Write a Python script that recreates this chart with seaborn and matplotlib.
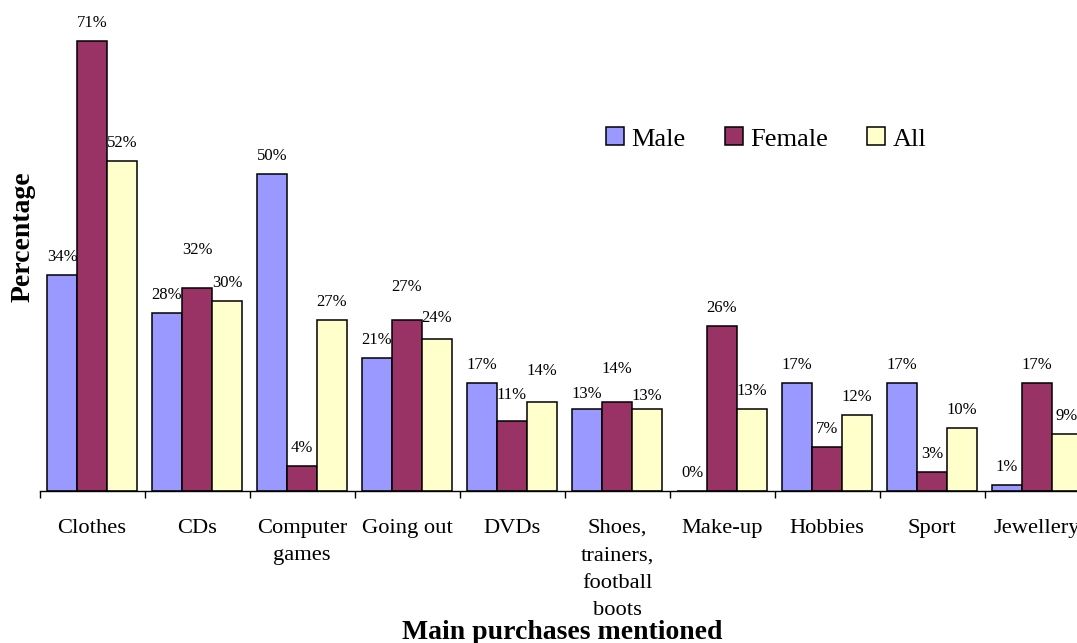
import pandas as pd
import matplotlib
matplotlib.use("Agg")
import matplotlib.pyplot as plt
import seaborn as sns

# Data
categories = ['Clothes', 'CDs', 'Computer\ngames', 'Going out', 'DVDs',
              'Shoes,\ntrainers,\nfootball\nboots', 'Make-up', 'Hobbies', 'Sport', 'Jewellery']
male = [34, 28, 50, 21, 17, 13, 0, 17, 17, 1]
female = [71, 32, 4, 27, 11, 14, 26, 7, 3, 17]
all_ = [52, 30, 27, 24, 14, 13, 13, 12, 10, 9]
groups = ['Male', 'Female', 'All']
colors = ['#9999FF', '#993366', '#FFFFCC']

# label lift above bar top (pixels), where the original nudged a label
label_lift = {('CDs', 'Female'): 38, ('Going out', 'Female'): 33, ('Going out', 'All'): 21,
              ('DVDs', 'Female'): 26, ('DVDs', 'All'): 31,
              ('Shoes,\ntrainers,\nfootball\nboots', 'Male'): 15,
              ('Shoes,\ntrainers,\nfootball\nboots', 'Female'): 33,
              ('Shoes,\ntrainers,\nfootball\nboots', 'All'): 13}

df = pd.DataFrame({'Category': categories * 3,
                   'Group': [g for g in groups for _ in categories],
                   'Value': male + female + all_})

sns.set_style('white')
plt.rcParams['font.family'] = ['Liberation Serif', 'DejaVu Serif']
plt.rcParams['text.color'] = 'black'
plt.rcParams['xtick.color'] = 'black'
plt.rcParams['axes.labelcolor'] = 'black'

fig = plt.figure(figsize=(10.77, 6.43), dpi=100)
# axes runs slightly past the right edge like the cropped original
ax = fig.add_axes([39.5 / 1077, 152 / 643, 1050 / 1077, 482 / 643])

sns.barplot(data=df, x='Category', y='Value', hue='Group', hue_order=groups,
            palette=colors, width=0.857, gap=0, edgecolor='black', linewidth=1.1,
            saturation=1, ax=ax, legend=True)

ax.set_ylim(0, 76)
ax.set_xlim(-0.5, len(categories) - 0.5)
ax.set_yticks([])
ax.set_xlabel('')
ax.set_ylabel('')
for s in ['left', 'right', 'top']:
    ax.spines[s].set_visible(False)
ax.spines['bottom'].set_color('black')
ax.spines['bottom'].set_linewidth(1.0)

# ticks at group boundaries, labels centered
ax.set_xticks([i - 0.5 for i in range(len(categories) + 1)], minor=True)
ax.tick_params(axis='x', which='minor', length=5, width=1, color='black', direction='out', bottom=True)
ax.tick_params(axis='x', which='major', length=0, pad=20, labelsize=16.2, labelcolor='black')
ax.set_xticks(range(len(categories)))
ax.set_xticklabels(categories, linespacing=1.6, va='top')

# data labels
for cont, g in zip(ax.containers, groups):
    for bar, cat in zip(cont, categories):
        h = bar.get_height()
        lift = label_lift.get((cat, g), 18)
        ax.annotate(f'{h:.0f}%', (bar.get_x() + bar.get_width() / 2, h),
                    xytext=(0, lift), textcoords='offset pixels',
                    ha='center', va='center', fontsize=12, color='black', clip_on=False)

leg = ax.legend(loc='center left', bbox_to_anchor=(606 / 1077, 1 - 139 / 643),
                bbox_transform=fig.transFigure, frameon=False, ncol=3, fontsize=19,
                handlelength=0.68, handleheight=0.68, handletextpad=0.27,
                columnspacing=1.5, borderpad=0, borderaxespad=0)
for t in leg.get_texts():
    t.set_color('black')

fig.text(23 / 1077, 1 - 237 / 643, 'Percentage', rotation=90, ha='center', va='center',
         fontsize=20, fontweight='bold', color='black')
fig.text(562 / 1077, 1 - 639 / 643, 'Main purchases mentioned', ha='center', va='baseline',
         fontsize=20, fontweight='bold', color='black')

fig.savefig('out.png', dpi=100)
